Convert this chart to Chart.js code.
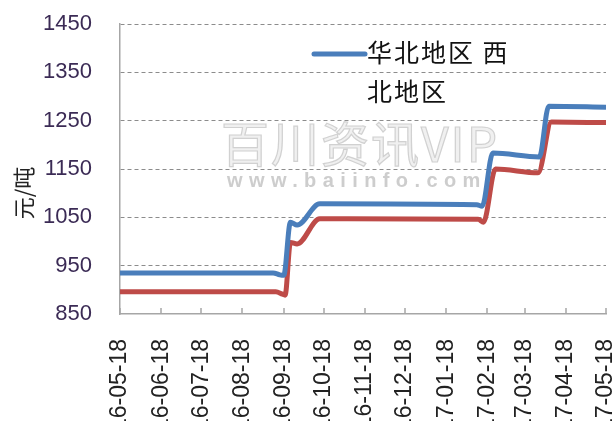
<!DOCTYPE html>
<html><head><meta charset="utf-8">
<script src="https://cdn.jsdelivr.net/npm/chart.js@4.4.1/dist/chart.umd.min.js"></script>
<style>html,body{margin:0;padding:0;overflow:hidden;background:#fff}canvas{display:block}</style>
</head><body>
<canvas id="c" width="616" height="440" style="width:616px;height:440px"></canvas>
<script>
// ---------- data ----------
const startDate = '2016-05-18';
const tickLabels = ['16-05-18','16-06-18','16-07-18','16-08-18','16-09-18','16-10-18','16-11-18','16-12-18','17-01-18','17-02-18','17-03-18','17-04-18','17-05-18'];
const yTicks = [850, 950, 1050, 1150, 1250, 1350, 1450];

const huabeiDates  = ['2016-05-18','2016-09-10','2016-09-15','2016-09-18','2016-09-23','2016-09-28','2016-10-15','2017-02-10','2017-02-14','2017-02-22','2017-03-29','2017-04-05','2017-05-18'];
const huabeiValues = [935, 935, 931, 930, 1040, 1034, 1078, 1076, 1073, 1183, 1175, 1280, 1278];

const xibeiDates  = ['2016-05-18','2016-09-12','2016-09-17','2016-09-19','2016-09-23','2016-09-28','2016-10-15','2017-02-11','2017-02-15','2017-02-24','2017-03-28','2017-04-07','2017-05-18'];
const xibeiValues = [896, 896, 891, 889, 998, 995, 1047, 1046, 1040, 1150, 1142, 1247, 1246];

const seriesNames = ['华北地区', '西北地区'];
const legendLines = ['华北地区 西', '北地区'];
const yTitle = '元/吨';
const watermarkMain = '百川资讯VIP';
const watermarkUrl = 'www.baiinfo.com';

// ---------- helpers ----------
function utc(iso){ const p = iso.split('-').map(Number); return Date.UTC(p[0], p[1]-1, p[2]); }
const t0 = utc(startDate);
function dayOf(iso){ return (utc(iso) - t0) / 86400000; }
function dayOfLabel(l){ const p = l.split('-'); return dayOf('20' + p[0] + '-' + p[1] + '-' + p[2]); }
const tickDays = tickLabels.map(dayOfLabel);
const labelByDay = {}; tickDays.forEach((d,i)=> labelByDay[d] = tickLabels[i]);

const BLUE = '#4a7ebb', RED = '#be4b48';

const decorPlugin = {
  id: 'decor',
  beforeDatasetsDraw(chart){
    const ctx = chart.ctx;
    ctx.save();
    ctx.font = '48px "Noto Sans CJK SC"';
    ctx.textBaseline = 'middle';
    ctx.textAlign = 'left';
    ctx.letterSpacing = '2px';
    ctx.fillStyle = 'rgba(238,238,238,0.9)';
    ctx.strokeStyle = 'rgba(205,205,205,0.9)';
    ctx.lineWidth = 1.2;
    ctx.fillText(watermarkMain, 221, 144);
    ctx.strokeText(watermarkMain, 221, 144);
    ctx.font = 'bold 20px "Liberation Sans"';
    ctx.fillStyle = 'rgba(200,200,200,0.9)';
    ctx.letterSpacing = '6.4px';
    ctx.fillText(watermarkUrl, 227, 181);
    ctx.restore();
  },
  afterDraw(chart){
    const {ctx, chartArea, scales} = chart;
    const x = scales.x;
    ctx.save();
    // inward tick marks on x axis
    ctx.strokeStyle = '#a6a6a6';
    ctx.lineWidth = 1.5;
    x.ticks.forEach(t => {
      const px = Math.round(x.getPixelForValue(t.value));
      ctx.beginPath();
      ctx.moveTo(px, chartArea.bottom);
      ctx.lineTo(px, chartArea.bottom - 6);
      ctx.stroke();
    });
    // y title
    ctx.save();
    ctx.translate(24, 193);
    ctx.rotate(-Math.PI/2);
    ctx.font = '22px "Noto Sans CJK SC"';
    ctx.fillStyle = '#222';
    ctx.textAlign = 'center';
    ctx.textBaseline = 'middle';
    ctx.fillText(yTitle, 0, 0);
    ctx.restore();
    // legend
    ctx.strokeStyle = BLUE;
    ctx.lineWidth = 5;
    ctx.lineCap = 'round';
    ctx.beginPath();
    ctx.moveTo(314, 54);
    ctx.lineTo(365, 54);
    ctx.stroke();
    ctx.font = '25px "Noto Sans CJK SC"';
    ctx.letterSpacing = '2px';
    ctx.fillStyle = '#111';
    ctx.textAlign = 'left';
    ctx.textBaseline = 'middle';
    ctx.fillText(legendLines[0], 367, 52);
    ctx.fillText(legendLines[1], 367, 91);
    ctx.restore();
  }
};

new Chart(document.getElementById('c'), {
  type: 'line',
  data: {
    datasets: [
      { label: seriesNames[0], data: huabeiDates.map((d,i)=>({x: dayOf(d), y: huabeiValues[i]})),
        borderColor: BLUE, borderWidth: 5, pointRadius: 0, cubicInterpolationMode: 'monotone', fill: false },
      { label: seriesNames[1], data: xibeiDates.map((d,i)=>({x: dayOf(d), y: xibeiValues[i]})),
        borderColor: RED, borderWidth: 5, pointRadius: 0, cubicInterpolationMode: 'monotone', fill: false }
    ]
  },
  options: {
    responsive: false,
    animation: false,
    devicePixelRatio: 1,
    layout: { padding: { left: 0, right: 10, top: 24, bottom: 0 } },
    plugins: { legend: { display: false }, tooltip: { enabled: false } },
    scales: {
      x: {
        type: 'linear',
        min: tickDays[0], max: tickDays[tickDays.length-1],
        afterBuildTicks(s){ s.ticks = tickDays.map(v => ({value: v})); },
        afterFit(s){ s.height = 126; s.paddingLeft = 0; s.paddingRight = 0; },
        grid: { display: false },
        border: { display: true, color: '#a6a6a6', width: 1.5 },
        ticks: {
          autoSkip: false, minRotation: 90, maxRotation: 90, padding: 17,
          color: '#222', font: { family: 'Liberation Sans', size: 23 },
          callback: v => labelByDay[v] || ''
        }
      },
      y: {
        min: yTicks[0], max: yTicks[yTicks.length-1],
        afterBuildTicks(s){ s.ticks = yTicks.map(v => ({value: v})); },
        afterFit(s){ s.width = 120; s.paddingTop = 0; s.paddingBottom = 0; },
        grid: {
          drawTicks: false,
          color: c => (c.tick && c.tick.value === yTicks[0]) ? 'rgba(0,0,0,0)' : '#8c8c8c',
          lineWidth: 1
        },
        border: { display: true, color: '#a6a6a6', width: 1.5, dash: [4, 3] },
        ticks: { padding: 28, color: '#3b2b55', font: { family: 'Liberation Sans', size: 22 },
                 callback: v => String(v) }
      }
    }
  },
  plugins: [decorPlugin]
});
</script>
</body></html>
